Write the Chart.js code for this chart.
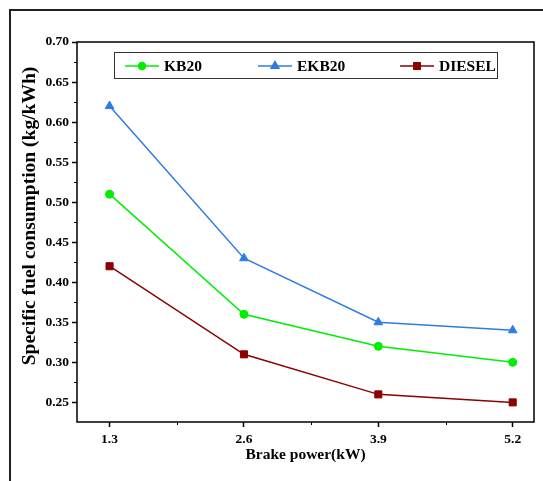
<!DOCTYPE html>
<html>
<head>
<meta charset="utf-8">
<script src="https://cdn.jsdelivr.net/npm/chart.js@4.4.0/dist/chart.umd.min.js"></script>
<style>
  html, body { margin: 0; padding: 0; background: #fff; }
  #wrap { width: 543px; height: 481px; }
</style>
</head>
<body>
<div id="wrap"><canvas id="myChart" width="543" height="481"></canvas></div>
<script>
// data
const brakePower = [1.3, 2.6, 3.9, 5.2];
const kb20 = [0.51, 0.36, 0.32, 0.30];
const ekb20 = [0.62, 0.43, 0.35, 0.34];
const diesel = [0.42, 0.31, 0.26, 0.25];
const seriesNames = ['KB20', 'EKB20', 'DIESEL'];
const yTicks = [0.25, 0.30, 0.35, 0.40, 0.45, 0.50, 0.55, 0.60, 0.65, 0.70];
const yMinor = [0.275, 0.325, 0.375, 0.425, 0.475, 0.525, 0.575, 0.625, 0.675];
const xTicks = [1.3, 2.6, 3.9, 5.2];
const xMinor = [1.95, 3.25, 4.55];

const FONT = '"Liberation Serif", "Times New Roman", serif';
const colors = ['#00ee00', '#2f7ce0', '#8b0000'];
const shapes = ['circle', 'triangle', 'rect'];
const radii = [4, 5, 5];

function pts(arr) {
  return brakePower.map(function(x, i) { return {x: x, y: arr[i]}; });
}

const sets = [kb20, ekb20, diesel].map(function(arr, i) {
  return {
    label: seriesNames[i],
    data: pts(arr),
    borderColor: colors[i],
    backgroundColor: colors[i],
    borderWidth: 1.5,
    pointStyle: shapes[i],
    pointRadius: radii[i],
    pointBorderWidth: 1,
    tension: 0
  };
});

const extras = {
  id: 'extras',
  afterDraw: function(chart) {
    const ctx = chart.ctx;
    const a = chart.chartArea;
    const xs = chart.scales.x;
    const ys = chart.scales.y;
    ctx.save();

    // outer frame (only left/top visible)
    ctx.strokeStyle = '#222';
    ctx.lineWidth = 2;
    ctx.beginPath();
    ctx.moveTo(10, 481);
    ctx.lineTo(10, 10);
    ctx.lineTo(543, 10);
    ctx.stroke();

    // plot box
    ctx.strokeStyle = '#000';
    ctx.lineWidth = 1.5;
    ctx.strokeRect(a.left, a.top, a.right - a.left, a.bottom - a.top);

    // minor ticks
    ctx.lineWidth = 1;
    ctx.beginPath();
    yMinor.forEach(function(v) {
      const y = Math.round(ys.getPixelForValue(v)) + 0.5;
      ctx.moveTo(a.left - 3, y);
      ctx.lineTo(a.left, y);
    });
    xMinor.forEach(function(v) {
      const x = Math.round(xs.getPixelForValue(v)) + 0.5;
      ctx.moveTo(x, a.bottom);
      ctx.lineTo(x, a.bottom + 3);
    });
    ctx.stroke();

    // y title
    ctx.fillStyle = '#000';
    ctx.font = 'bold 19.5px ' + FONT;
    ctx.textAlign = 'center';
    ctx.textBaseline = 'middle';
    ctx.translate(30, 216);
    ctx.rotate(-Math.PI / 2);
    ctx.fillText('Specific fuel consumption (kg/kWh)', 0, 0);
    ctx.setTransform(1, 0, 0, 1, 0, 0);

    // legend box
    ctx.strokeStyle = '#333';
    ctx.lineWidth = 1;
    ctx.strokeRect(114.5, 52.5, 383, 26);
    const lx = [125, 258, 400];
    const ly = 66;
    ctx.font = 'bold 15.5px ' + FONT;
    ctx.textAlign = 'left';
    for (let i = 0; i < 3; i++) {
      ctx.strokeStyle = colors[i];
      ctx.lineWidth = 1.5;
      ctx.beginPath();
      ctx.moveTo(lx[i], ly);
      ctx.lineTo(lx[i] + 34, ly);
      ctx.stroke();
      ctx.fillStyle = colors[i];
      Chart.helpers.drawPoint(ctx, {pointStyle: shapes[i], radius: radii[i] - 0.5, borderWidth: 1}, lx[i] + 17, ly);
      ctx.fill();
      ctx.fillStyle = '#000';
      ctx.fillText(seriesNames[i], lx[i] + 39, ly + 1);
    }
    ctx.restore();
  }
};

const ctx = document.getElementById('myChart').getContext('2d');
const chart = new Chart(ctx, {
  type: 'line',
  data: { datasets: sets },
  options: {
    responsive: false,
    animation: false,
    devicePixelRatio: 1,
    layout: { padding: { top: 42, right: 9, left: 0, bottom: 0 } },
    plugins: { legend: { display: false }, tooltip: { enabled: false } },
    scales: {
      x: {
        type: 'linear',
        min: 0.985,
        max: 5.406,
        afterFit: function(s) { s.height = 59; },
        afterBuildTicks: function(s) { s.ticks = xTicks.map(function(v) { return {value: v}; }); },
        ticks: {
          color: '#000',
          font: { family: FONT, size: 13.5, weight: 'bold' },
          padding: 4,
          maxRotation: 0,
          callback: function(v) { return v.toFixed(1); }
        },
        grid: { drawOnChartArea: false, drawTicks: true, tickLength: 5, tickColor: '#000', tickWidth: 1.5 },
        border: { display: false },
        title: {
          display: true,
          text: 'Brake power(kW)',
          color: '#000',
          font: { family: FONT, size: 15.5, weight: 'bold' },
          padding: { top: 0, bottom: 17 }
        }
      },
      y: {
        min: 0.2255,
        max: 0.70,
        afterFit: function(s) { s.width = 77; },
        afterBuildTicks: function(s) { s.ticks = yTicks.map(function(v) { return {value: v}; }); },
        ticks: {
          color: '#000',
          font: { family: FONT, size: 13.5, weight: 'bold' },
          padding: 3,
          callback: function(v) { return v.toFixed(2); }
        },
        grid: { drawOnChartArea: false, drawTicks: true, tickLength: 5, tickColor: '#000', tickWidth: 1.5 },
        border: { display: false }
      }
    }
  },
  plugins: [extras]
});
</script>
</body>
</html>
